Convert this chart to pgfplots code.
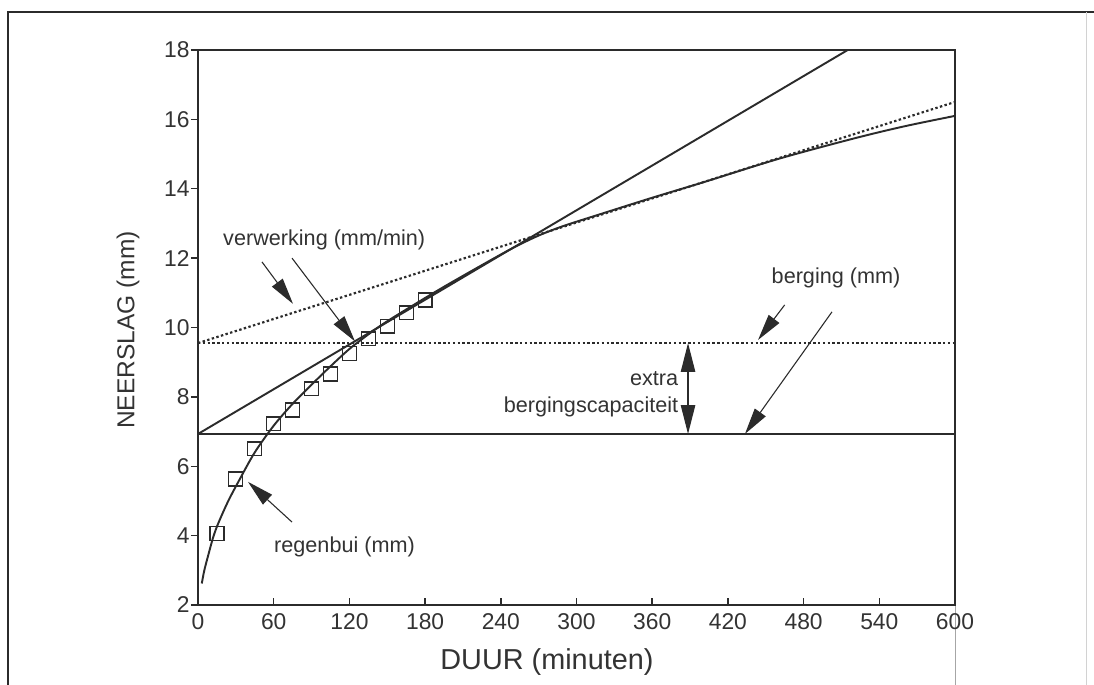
\documentclass[border=0pt]{standalone}
\usepackage{pgfplots}
\pgfplotsset{compat=1.18}
\usepackage{fontspec}
\setmainfont{Liberation Sans}
\usetikzlibrary{arrows.meta}
\definecolor{ink}{HTML}{2B2B2B}
\definecolor{txt}{HTML}{333333}
\begin{document}
\begin{tikzpicture}[x=1cm,y=1cm]
\useasboundingbox (0,0) rectangle (16,10.018);
\fill[white] (0,0) rectangle (16,10.018);
\draw[ink, line width=0.9pt] (0.117,0) -- (0.117,9.843) -- (16,9.843);
\draw[gray!35, line width=0.4pt] (15.89,0) -- (15.89,9.843);
\draw[gray!70, line width=0.4pt] (13.967,0) -- (13.967,1.17);
\begin{axis}[
  at={(2.896cm,1.170cm)}, anchor=south west,
  scale only axis, width=11.071cm, height=8.117cm,
  xmin=0, xmax=600, ymin=2, ymax=18,
  xtick={0,60,...,600}, ytick={2,4,...,18},
  tick pos=left,
  major tick length=3pt,
  axis line style={ink, line width=0.75pt},
  xtick style={ink, line width=0.6pt},
  ytick style={ink, line width=0.6pt, xshift=-3pt},
  /pgf/number format/assume math mode=true,
  tick label style={font=\fontsize{9.5}{11}\selectfont, text=txt},
  clip=false,
]
% regenbui curve
\addplot[ink, line width=0.8pt, smooth, tension=0.5] coordinates {
(3,2.62)(5,3.0)(8,3.42)(12,3.95)(16,4.35)(24,5.0)(33,5.62)(45,6.4)(60,7.17)(75,7.8)(90,8.35)(105,8.88)(120,9.38)(135,9.8)(150,10.18)(180,10.85)(200,11.28)(230,11.9)(250,12.3)(270,12.65)(290,12.93)(320,13.28)(360,13.74)(400,14.18)(460,14.86)(520,15.45)(560,15.8)(600,16.1)};
% measured points
\addplot[only marks, mark=square, mark size=2.9pt, mark options={ink, line width=0.5pt, fill=none}] coordinates {
(15,4.05)(30,5.63)(45,6.50)(60,7.22)(75,7.62)(90,8.23)(105,8.66)(120,9.26)(135,9.67)(150,10.04)(165,10.42)(180,10.79)};
% storage line
\addplot[ink, line width=0.8pt] coordinates {(0,6.93)(600,6.93)};
% processing line from storage
\addplot[ink, line width=0.8pt] coordinates {(0,6.93)(515,18)};
% extra storage dotted
\addplot[ink, line width=0.9pt, dash pattern=on 1pt off 1pt] coordinates {(0,9.55)(600,9.55)};
\addplot[ink, line width=0.9pt, dash pattern=on 1pt off 1pt] coordinates {(0,9.55)(600,16.5)};
% annotations
\tikzset{lab/.style={font=\fontsize{9}{10.5}\selectfont, text=txt, inner sep=0pt},
         arr/.style={ink, line width=0.45pt, -{Triangle[length=11pt,width=5.5pt]}}}
\node[lab] at (axis cs:100,12.52) {verwerking (mm/min)};
\draw[arr] (axis cs:50.7,11.89) -- (axis cs:75.3,10.68);
\draw[arr] (axis cs:74.5,12.0) -- (axis cs:124.4,9.6);
\node[lab] at (axis cs:505.7,11.43) {berging (mm)};
\draw[arr] (axis cs:465,10.65) -- (axis cs:443.9,9.64);
\draw[arr] (axis cs:502.5,10.45) -- (axis cs:433.5,6.93);
\draw[ink, line width=0.45pt, {Triangle[length=12pt,width=6pt]}-{Triangle[length=12pt,width=6pt]}] (axis cs:388.4,9.55) -- (axis cs:388.4,6.93);
\node[lab, anchor=east] at (axis cs:381,8.54) {extra};
\node[lab, anchor=east] at (axis cs:381,7.71) {bergingscapaciteit};
\node[lab, anchor=west] at (axis cs:60,3.67) {regenbui (mm)};
\draw[arr] (axis cs:74.5,4.39) -- (axis cs:39.6,5.55);
% axis labels
\node[font=\fontsize{12}{14}\selectfont, text=txt] at (rel axis cs:0.461,-0.1027) {DUUR (minuten)};
\node[font=\fontsize{10.2}{12}\selectfont, text=txt, rotate=90] at (rel axis cs:-0.0925,0.4955) {NEERSLAG (mm)};
\end{axis}
\end{tikzpicture}
\end{document}
